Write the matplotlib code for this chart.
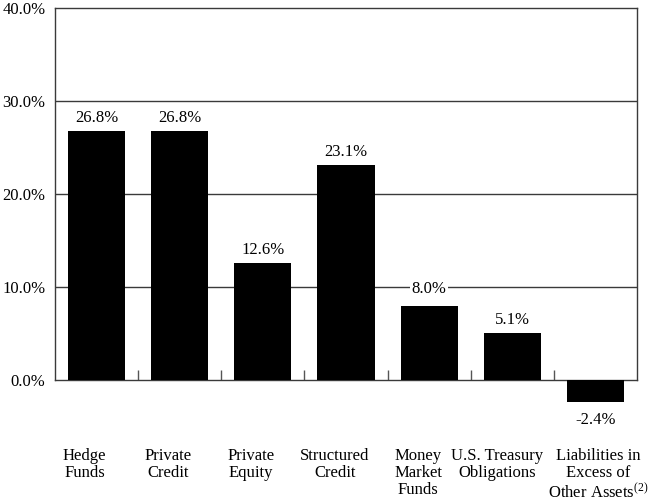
import matplotlib
matplotlib.use("Agg")
import matplotlib.pyplot as plt
import numpy as np

categories = ["Hedge\nFunds", "Private\nCredit", "Private\nEquity", "Structured\nCredit",
              "Money\nMarket\nFunds", "U.S. Treasury\nObligations",
              "Liabilities in\nExcess of\nOther Assets$^{(2)}$"]
values = [26.8, 26.8, 12.6, 23.1, 8.0, 5.1, -2.4]
value_labels = ["26.8%", "26.8%", "12.6%", "23.1%", "8.0%", "5.1%", "-2.4%"]
yticks = [0, 10, 20, 30, 40]
ytick_labels = ["0.0%", "10.0%", "20.0%", "30.0%", "40.0%"]

plt.rcParams['font.family'] = ['Liberation Serif', 'DejaVu Serif']
plt.rcParams['mathtext.fontset'] = 'custom'
plt.rcParams['mathtext.rm'] = 'Liberation Serif'
plt.rcParams['mathtext.it'] = 'Liberation Serif'

fig = plt.figure(figsize=(6.5, 5.01), dpi=100)
ax = fig.add_axes([55/650, 1-380/501, (637-55)/650, (380-8)/501])

x = np.arange(len(categories))
ax.set_xlim(-0.5, len(categories) - 0.5)
ax.set_ylim(0, 40)

for yv in yticks[1:-1]:
    ax.axhline(yv, color='#3a3a3a', lw=1.0, zorder=1)

bars = ax.bar(x, values, width=0.686, color='black', zorder=3, clip_on=False)

for xi, v, lab in zip(x, values, value_labels):
    if v >= 0:
        off = 9 if lab == "8.0%" else 5
        t = ax.annotate(lab, (xi, v), xytext=(0, off), textcoords='offset pixels',
                        ha='center', va='bottom', fontsize=12, zorder=4,
                        annotation_clip=False)
        if lab == "8.0%":
            t.set_bbox(dict(facecolor='white', edgecolor='none', pad=1))
    else:
        ax.annotate(lab, (xi, v), xytext=(0, -10), textcoords='offset pixels',
                    ha='center', va='top', fontsize=12, zorder=4,
                    annotation_clip=False)

label_dx = [-12, -12, -12, -11, -11, -15, 3]
for xi, cat, dx in zip(x, categories, label_dx):
    ax.annotate(cat, (xi, 0), xytext=(dx, -68), textcoords='offset pixels',
                ha='center', va='top', fontsize=12, linespacing=1.1,
                multialignment='center', annotation_clip=False)

ax.set_yticks(yticks)
ax.set_yticklabels(ytick_labels, fontsize=12)
ax.tick_params(axis='y', length=0, pad=7)
ax.set_xticks([])
ax.set_xticks(np.arange(0.5, len(categories) - 0.5, 1), minor=True)
ax.tick_params(axis='x', which='minor', direction='in', length=7, width=1, color='#555555')
ax.tick_params(axis='x', which='major', length=0)

for s in ax.spines.values():
    s.set_color('#3a3a3a')
    s.set_linewidth(1.0)

fig.savefig("out.png", dpi=100)
